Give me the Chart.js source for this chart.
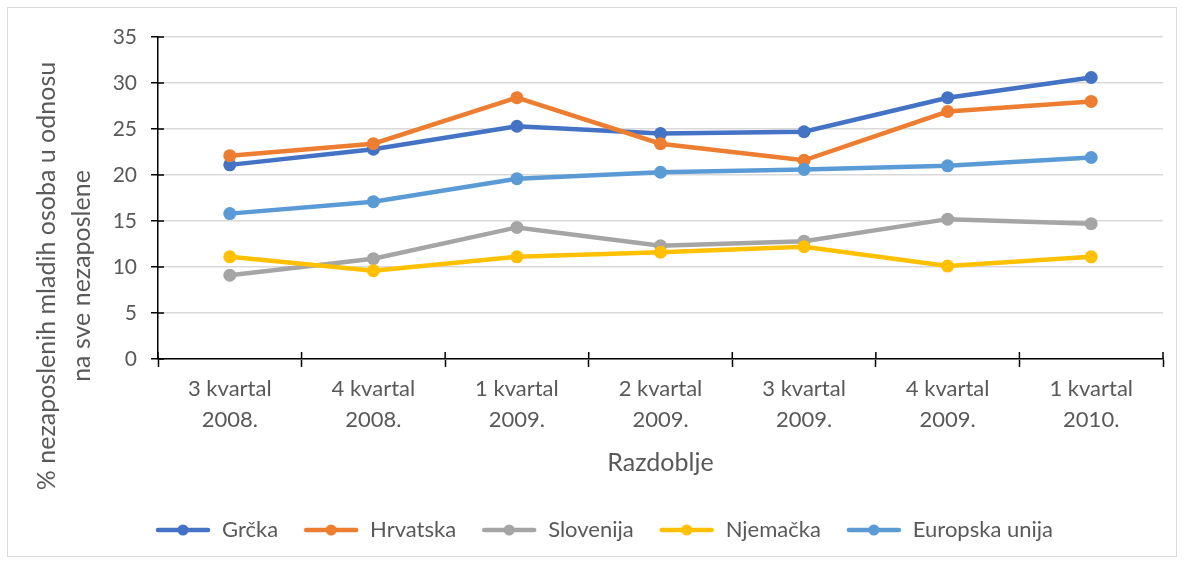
<!DOCTYPE html>
<html lang="hr">
<head>
<meta charset="UTF-8">
<title>Nezaposlenost mladih</title>
<script src="https://cdn.jsdelivr.net/npm/chart.js"></script>
<style>
  body { margin: 0; background: #ffffff; }
  .okvir {
    position: absolute;
    left: 7px; top: 7px;
    width: 1168px; height: 548px;
    border: 1px solid #d9d9d9;
  }
  .graf {
    position: absolute;
    left: 0; top: 0;
    width: 1184px; height: 564px;
  }
</style>
</head>
<body>
<div class="okvir"></div>
<div class="graf"><canvas id="grafNezaposleni"></canvas></div>

<script>
  // razdoblja (kategorije na x osi)
  const razdoblja = [
    ['3 kvartal', '2008.'],
    ['4 kvartal', '2008.'],
    ['1 kvartal', '2009.'],
    ['2 kvartal', '2009.'],
    ['3 kvartal', '2009.'],
    ['4 kvartal', '2009.'],
    ['1 kvartal', '2010.']
  ];

  const grcka     = [21.1, 22.8, 25.3, 24.5, 24.7, 28.4, 30.6];
  const hrvatska  = [22.1, 23.4, 28.4, 23.4, 21.6, 26.9, 28.0];
  const slovenija = [9.1, 10.9, 14.3, 12.3, 12.8, 15.2, 14.7];
  const njemacka  = [11.1, 9.6, 11.1, 11.6, 12.2, 10.1, 11.1];
  const eu        = [15.8, 17.1, 19.6, 20.3, 20.6, 21.0, 21.9];

  const nazivi = ['Grčka', 'Hrvatska', 'Slovenija', 'Njemačka', 'Europska unija'];
  const boje = ['#4472c4', '#ed7d31', '#a5a5a5', '#ffc000', '#5b9bd5'];
  const serije = [grcka, hrvatska, slovenija, njemacka, eu];

  const naslovY = ['% nezaposlenih mladih osoba u odnosu', 'na sve nezaposlene'];

  const font = 'Lato, "Open Sans", sans-serif';
  const sivaSlova = '#595959';

  // mala slika za legendu: crta s točkom u sredini
  function oznakaLegende(boja) {
    const c = document.createElement('canvas');
    c.width = 56; c.height = 14;
    const g = c.getContext('2d');
    g.strokeStyle = boja;
    g.lineWidth = 4.5;
    g.lineCap = 'round';
    g.beginPath();
    g.moveTo(3, 7); g.lineTo(53, 7);
    g.stroke();
    g.fillStyle = boja;
    g.beginPath();
    g.arc(28, 7, 5.5, 0, Math.PI * 2);
    g.fill();
    return c;
  }

  // naslov y osi centriran po visini cijelog grafa (kao u Excelu)
  const naslovYPlugin = {
    id: 'naslovY',
    afterDraw(chart) {
      const ctx = chart.ctx;
      ctx.save();
      ctx.fillStyle = sivaSlova;
      ctx.font = '25px ' + font;
      ctx.textAlign = 'center';
      ctx.textBaseline = 'middle';
      ctx.translate(0, 276);
      ctx.rotate(-Math.PI / 2);
      ctx.fillText(naslovY[0], 0, 47);
      ctx.fillText(naslovY[1], 0, 82);
      ctx.restore();
    }
  };

  // crtice osi prelaze i s unutarnje strane osi
  const crticePlugin = {
    id: 'crtice',
    afterDraw(chart) {
      const ctx = chart.ctx;
      const x = chart.scales.x, y = chart.scales.y;
      ctx.save();
      ctx.strokeStyle = '#000000';
      ctx.lineWidth = 1.5;
      ctx.beginPath();
      y.ticks.forEach((t, i) => {
        const py = y.getPixelForTick(i);
        ctx.moveTo(y.right, py);
        ctx.lineTo(y.right + 6, py);
      });
      for (let i = 0; i <= razdoblja.length; i++) {
        const px = x.getPixelForValue(i - 0.5);
        ctx.moveTo(px, x.top);
        ctx.lineTo(px, x.top - 7);
      }
      ctx.stroke();
      ctx.restore();
    }
  };

  const datasets = serije.map((s, i) => ({
    label: nazivi[i],
    data: s,
    borderColor: boje[i],
    backgroundColor: boje[i],
    borderWidth: 4.5,
    pointRadius: 6.5,
    pointHoverRadius: 6.5,
    pointBorderWidth: 0,
    tension: 0,
    order: serije.length - i, // kasnije serije crtaju se preko ranijih
    oznaka: oznakaLegende(boje[i])
  }));

  new Chart(document.getElementById('grafNezaposleni'), {
    type: 'line',
    data: { labels: razdoblja, datasets: datasets },
    plugins: [naslovYPlugin, crticePlugin],
    options: {
      responsive: true,
      maintainAspectRatio: false,
      animation: false,
      layout: { padding: { left: 45, right: 21, top: 37, bottom: 13 } },
      plugins: {
        tooltip: { enabled: false },
        legend: {
          position: 'bottom',
          labels: {
            usePointStyle: true,
            pointStyleWidth: 56,
            boxHeight: 14,
            padding: 25,
            color: sivaSlova,
            font: { family: font, size: 22 },
            generateLabels: (chart) => chart.data.datasets.map((d, i) => ({
              text: d.label,
              fillStyle: d.borderColor,
              strokeStyle: d.borderColor,
              lineWidth: 0,
              pointStyle: d.oznaka,
              fontColor: sivaSlova,
              datasetIndex: i
            }))
          }
        }
      },
      scales: {
        x: {
          offset: true,
          grid: {
            offset: true,
            drawOnChartArea: false,
            tickLength: 8,
            tickColor: '#000000',
            tickWidth: 1.5
          },
          border: { color: '#000000', width: 1.5 },
          ticks: {
            color: sivaSlova,
            font: { family: font, size: 22, lineHeight: 1.41 },
            padding: 6,
            maxRotation: 0
          },
          title: {
            display: true,
            text: 'Razdoblje',
            color: sivaSlova,
            font: { family: font, size: 25 },
            padding: { top: 7, bottom: 16 }
          }
        },
        y: {
          min: 0,
          max: 35,
          // prostor lijevo od osi (naslov osi crta se zasebno)
          afterFit: (scale) => { scale.width = 113; },
          ticks: {
            stepSize: 5,
            color: sivaSlova,
            font: { family: font, size: 21 },
            padding: 14
          },
          grid: {
            color: '#d9d9d9',
            lineWidth: 1.5,
            tickLength: 7,
            tickColor: '#000000',
            tickWidth: 1.5
          },
          border: { color: '#000000', width: 1.5 }
        }
      }
    }
  });
</script>
</body>
</html>
